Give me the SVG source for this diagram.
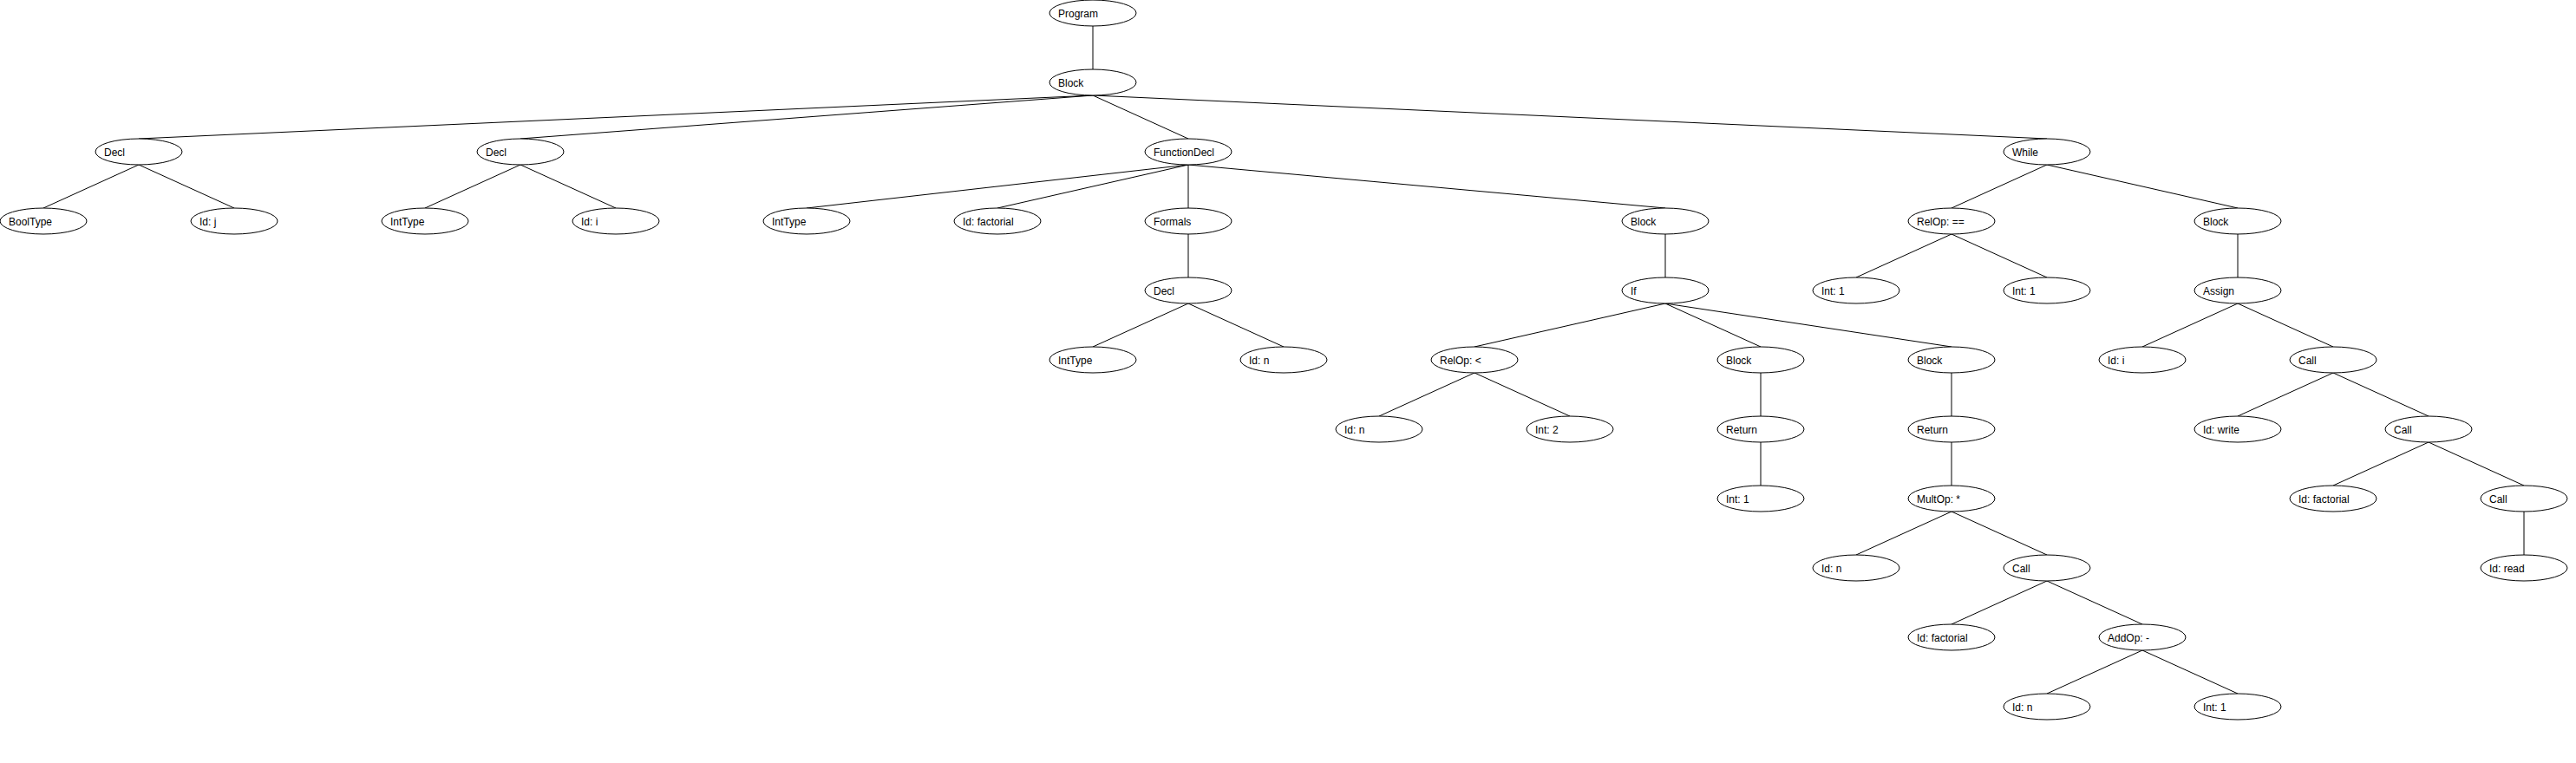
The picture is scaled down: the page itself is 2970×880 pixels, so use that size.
<svg xmlns="http://www.w3.org/2000/svg" width="2970" height="880" viewBox="0 0 2970 880">
<style>
.n ellipse{fill:#fff;stroke:#000;stroke-width:1}
.n text{font-family:"Liberation Sans",Arial,sans-serif;font-size:12px;fill:#000}
#edges line{stroke:#000;stroke-width:1}
</style>
<rect width="2970" height="880" fill="#fff"/>
<g id="edges">
<line x1="1260" y1="30" x2="1260" y2="80"/>
<line x1="1260" y1="110" x2="160" y2="160"/>
<line x1="1260" y1="110" x2="600" y2="160"/>
<line x1="1260" y1="110" x2="1370" y2="160"/>
<line x1="1260" y1="110" x2="2360" y2="160"/>
<line x1="160" y1="190" x2="50" y2="240"/>
<line x1="160" y1="190" x2="270" y2="240"/>
<line x1="600" y1="190" x2="490" y2="240"/>
<line x1="600" y1="190" x2="710" y2="240"/>
<line x1="1370" y1="190" x2="930" y2="240"/>
<line x1="1370" y1="190" x2="1150" y2="240"/>
<line x1="1370" y1="190" x2="1370" y2="240"/>
<line x1="1370" y1="190" x2="1920" y2="240"/>
<line x1="1370" y1="270" x2="1370" y2="320"/>
<line x1="1370" y1="350" x2="1260" y2="400"/>
<line x1="1370" y1="350" x2="1480" y2="400"/>
<line x1="1920" y1="270" x2="1920" y2="320"/>
<line x1="1920" y1="350" x2="1700" y2="400"/>
<line x1="1920" y1="350" x2="2030" y2="400"/>
<line x1="1920" y1="350" x2="2250" y2="400"/>
<line x1="1700" y1="430" x2="1590" y2="480"/>
<line x1="1700" y1="430" x2="1810" y2="480"/>
<line x1="2030" y1="430" x2="2030" y2="480"/>
<line x1="2030" y1="510" x2="2030" y2="560"/>
<line x1="2250" y1="430" x2="2250" y2="480"/>
<line x1="2250" y1="510" x2="2250" y2="560"/>
<line x1="2250" y1="590" x2="2140" y2="640"/>
<line x1="2250" y1="590" x2="2360" y2="640"/>
<line x1="2360" y1="670" x2="2250" y2="720"/>
<line x1="2360" y1="670" x2="2470" y2="720"/>
<line x1="2470" y1="750" x2="2360" y2="800"/>
<line x1="2470" y1="750" x2="2580" y2="800"/>
<line x1="2360" y1="190" x2="2250" y2="240"/>
<line x1="2360" y1="190" x2="2580" y2="240"/>
<line x1="2250" y1="270" x2="2140" y2="320"/>
<line x1="2250" y1="270" x2="2360" y2="320"/>
<line x1="2580" y1="270" x2="2580" y2="320"/>
<line x1="2580" y1="350" x2="2470" y2="400"/>
<line x1="2580" y1="350" x2="2690" y2="400"/>
<line x1="2690" y1="430" x2="2580" y2="480"/>
<line x1="2690" y1="430" x2="2800" y2="480"/>
<line x1="2800" y1="510" x2="2690" y2="560"/>
<line x1="2800" y1="510" x2="2910" y2="560"/>
<line x1="2910" y1="590" x2="2910" y2="640"/>
</g>
<g id="n0" class="n"><ellipse cx="1260" cy="15" rx="50" ry="15"/><text x="1220" y="20">Program</text></g>
<g id="n1" class="n"><ellipse cx="1260" cy="95" rx="50" ry="15"/><text x="1220" y="100">Block</text></g>
<g id="n2" class="n"><ellipse cx="160" cy="175" rx="50" ry="15"/><text x="120" y="180">Decl</text></g>
<g id="n3" class="n"><ellipse cx="50" cy="255" rx="50" ry="15"/><text x="10" y="260">BoolType</text></g>
<g id="n4" class="n"><ellipse cx="270" cy="255" rx="50" ry="15"/><text x="230" y="260">Id: j</text></g>
<g id="n5" class="n"><ellipse cx="600" cy="175" rx="50" ry="15"/><text x="560" y="180">Decl</text></g>
<g id="n6" class="n"><ellipse cx="490" cy="255" rx="50" ry="15"/><text x="450" y="260">IntType</text></g>
<g id="n7" class="n"><ellipse cx="710" cy="255" rx="50" ry="15"/><text x="670" y="260">Id: i</text></g>
<g id="n8" class="n"><ellipse cx="1370" cy="175" rx="50" ry="15"/><text x="1330" y="180">FunctionDecl</text></g>
<g id="n9" class="n"><ellipse cx="930" cy="255" rx="50" ry="15"/><text x="890" y="260">IntType</text></g>
<g id="n10" class="n"><ellipse cx="1150" cy="255" rx="50" ry="15"/><text x="1110" y="260">Id: factorial</text></g>
<g id="n11" class="n"><ellipse cx="1370" cy="255" rx="50" ry="15"/><text x="1330" y="260">Formals</text></g>
<g id="n12" class="n"><ellipse cx="1370" cy="335" rx="50" ry="15"/><text x="1330" y="340">Decl</text></g>
<g id="n13" class="n"><ellipse cx="1260" cy="415" rx="50" ry="15"/><text x="1220" y="420">IntType</text></g>
<g id="n14" class="n"><ellipse cx="1480" cy="415" rx="50" ry="15"/><text x="1440" y="420">Id: n</text></g>
<g id="n15" class="n"><ellipse cx="1920" cy="255" rx="50" ry="15"/><text x="1880" y="260">Block</text></g>
<g id="n16" class="n"><ellipse cx="1920" cy="335" rx="50" ry="15"/><text x="1880" y="340">If</text></g>
<g id="n17" class="n"><ellipse cx="1700" cy="415" rx="50" ry="15"/><text x="1660" y="420">RelOp: &lt;</text></g>
<g id="n18" class="n"><ellipse cx="1590" cy="495" rx="50" ry="15"/><text x="1550" y="500">Id: n</text></g>
<g id="n19" class="n"><ellipse cx="1810" cy="495" rx="50" ry="15"/><text x="1770" y="500">Int: 2</text></g>
<g id="n20" class="n"><ellipse cx="2030" cy="415" rx="50" ry="15"/><text x="1990" y="420">Block</text></g>
<g id="n21" class="n"><ellipse cx="2030" cy="495" rx="50" ry="15"/><text x="1990" y="500">Return</text></g>
<g id="n22" class="n"><ellipse cx="2030" cy="575" rx="50" ry="15"/><text x="1990" y="580">Int: 1</text></g>
<g id="n23" class="n"><ellipse cx="2250" cy="415" rx="50" ry="15"/><text x="2210" y="420">Block</text></g>
<g id="n24" class="n"><ellipse cx="2250" cy="495" rx="50" ry="15"/><text x="2210" y="500">Return</text></g>
<g id="n25" class="n"><ellipse cx="2250" cy="575" rx="50" ry="15"/><text x="2210" y="580">MultOp: *</text></g>
<g id="n26" class="n"><ellipse cx="2140" cy="655" rx="50" ry="15"/><text x="2100" y="660">Id: n</text></g>
<g id="n27" class="n"><ellipse cx="2360" cy="655" rx="50" ry="15"/><text x="2320" y="660">Call</text></g>
<g id="n28" class="n"><ellipse cx="2250" cy="735" rx="50" ry="15"/><text x="2210" y="740">Id: factorial</text></g>
<g id="n29" class="n"><ellipse cx="2470" cy="735" rx="50" ry="15"/><text x="2430" y="740">AddOp: -</text></g>
<g id="n30" class="n"><ellipse cx="2360" cy="815" rx="50" ry="15"/><text x="2320" y="820">Id: n</text></g>
<g id="n31" class="n"><ellipse cx="2580" cy="815" rx="50" ry="15"/><text x="2540" y="820">Int: 1</text></g>
<g id="n32" class="n"><ellipse cx="2360" cy="175" rx="50" ry="15"/><text x="2320" y="180">While</text></g>
<g id="n33" class="n"><ellipse cx="2250" cy="255" rx="50" ry="15"/><text x="2210" y="260">RelOp: ==</text></g>
<g id="n34" class="n"><ellipse cx="2140" cy="335" rx="50" ry="15"/><text x="2100" y="340">Int: 1</text></g>
<g id="n35" class="n"><ellipse cx="2360" cy="335" rx="50" ry="15"/><text x="2320" y="340">Int: 1</text></g>
<g id="n36" class="n"><ellipse cx="2580" cy="255" rx="50" ry="15"/><text x="2540" y="260">Block</text></g>
<g id="n37" class="n"><ellipse cx="2580" cy="335" rx="50" ry="15"/><text x="2540" y="340">Assign</text></g>
<g id="n38" class="n"><ellipse cx="2470" cy="415" rx="50" ry="15"/><text x="2430" y="420">Id: i</text></g>
<g id="n39" class="n"><ellipse cx="2690" cy="415" rx="50" ry="15"/><text x="2650" y="420">Call</text></g>
<g id="n40" class="n"><ellipse cx="2580" cy="495" rx="50" ry="15"/><text x="2540" y="500">Id: write</text></g>
<g id="n41" class="n"><ellipse cx="2800" cy="495" rx="50" ry="15"/><text x="2760" y="500">Call</text></g>
<g id="n42" class="n"><ellipse cx="2690" cy="575" rx="50" ry="15"/><text x="2650" y="580">Id: factorial</text></g>
<g id="n43" class="n"><ellipse cx="2910" cy="575" rx="50" ry="15"/><text x="2870" y="580">Call</text></g>
<g id="n44" class="n"><ellipse cx="2910" cy="655" rx="50" ry="15"/><text x="2870" y="660">Id: read</text></g>
</svg>
